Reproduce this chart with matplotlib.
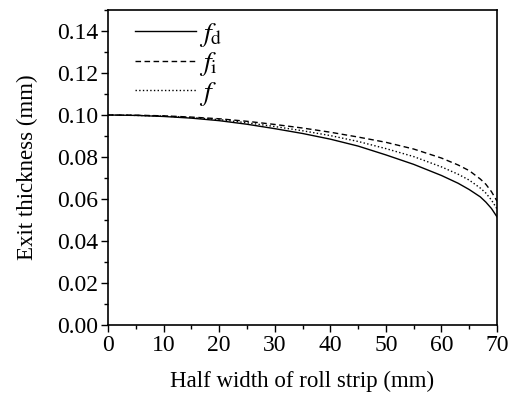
import numpy as np
import matplotlib
matplotlib.use("Agg")
import matplotlib.pyplot as plt
from matplotlib.ticker import MultipleLocator

plt.rcParams['font.family'] = ['Liberation Serif', 'DejaVu Serif']
plt.rcParams['mathtext.fontset'] = 'stix'

# half width of roll strip (mm)
width = [0, 5, 10, 15, 20, 25, 30, 35, 40, 45, 50, 55, 60, 63, 65, 67, 68, 69, 70]
# exit thickness (mm)
h_fd = [0.1000, 0.0998, 0.0993, 0.0985, 0.0973, 0.0956, 0.0935, 0.0912, 0.0885,
        0.0852, 0.0810, 0.0765, 0.0712, 0.0675, 0.0645, 0.0610, 0.0585, 0.0555, 0.0515]
h_fi = [0.1000, 0.0999, 0.0996, 0.0990, 0.0982, 0.0970, 0.0955, 0.0938, 0.0918,
        0.0895, 0.0870, 0.0838, 0.0795, 0.0762, 0.0735, 0.0695, 0.0670, 0.0635, 0.0590]
h_f = [0.1000, 0.0998, 0.0995, 0.0988, 0.0978, 0.0963, 0.0945, 0.0925, 0.0902,
       0.0874, 0.0840, 0.0802, 0.0753, 0.0718, 0.0690, 0.0652, 0.0628, 0.0595, 0.0553]

fig = plt.figure(figsize=(5.11, 3.93), dpi=100)
ax = fig.add_axes([0.2114, 0.173, 0.7612, 0.8016])

ax.plot(width, h_fd, '-', color='black', lw=1.0, label=r'$f_{\rm d}$')
ax.plot(width, h_fi, '--', color='black', lw=1.0, dashes=(4, 2.5), label=r'$f_{\rm i}$')
ax.plot(width, h_f, ':', color='black', lw=1.0, label=r'$f$')

ax.set_xlim(0, 70)
ax.set_ylim(0, 0.15)
ax.set_xticks(np.arange(0, 71, 10))
ax.set_yticks(np.arange(0, 0.141, 0.02))
ax.xaxis.set_minor_locator(MultipleLocator(5))
ax.yaxis.set_minor_locator(MultipleLocator(0.01))
ax.set_yticklabels(['%.2f' % v for v in np.arange(0, 0.141, 0.02)])
ax.tick_params(which='major', direction='out', length=5, width=1, labelsize=17, pad=2)
ax.tick_params(which='minor', direction='out', length=3, width=1)
for s in ax.spines.values():
    s.set_linewidth(1.2)

ax.set_xlabel('Half width of roll strip (mm)', fontsize=16.5, labelpad=11)
ax.set_ylabel('Exit thickness (mm)', fontsize=16.5, labelpad=14)

ax.legend(loc='upper left', frameon=False, fontsize=20, handlelength=2.2,
          handletextpad=0.1, labelspacing=0.05, borderaxespad=0.0,
          bbox_to_anchor=(0.04, 1.0))

fig.savefig('out.png', dpi=100)
